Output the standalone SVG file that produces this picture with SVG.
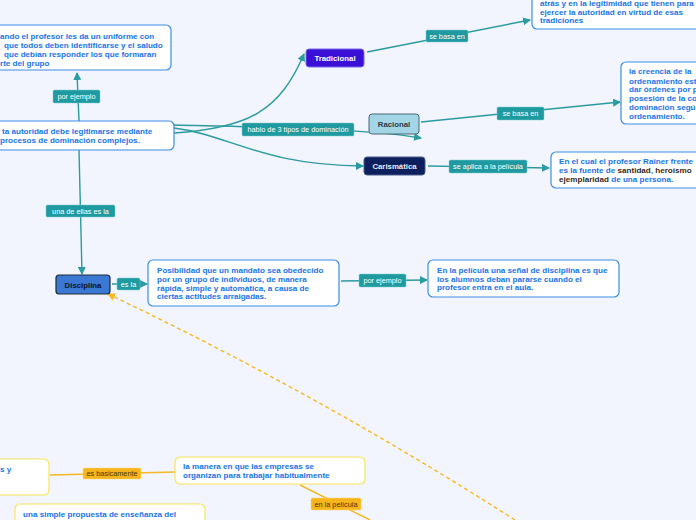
<svg xmlns="http://www.w3.org/2000/svg" width="696" height="520" viewBox="0 0 696 520">
<defs>
<marker id="ah" markerWidth="8" markerHeight="8" refX="7" refY="4" orient="auto" markerUnits="userSpaceOnUse"><path d="M0,0 L8,4 L0,8 Z" fill="#2a9ba0"/></marker>
<marker id="ahy" markerWidth="8" markerHeight="8" refX="7" refY="4" orient="auto" markerUnits="userSpaceOnUse"><path d="M0,0 L8,4 L0,8 Z" fill="#f5b820"/></marker>
<style>
.box{fill:#fff;stroke:#3a8ee6;stroke-width:1.2}
.ybox{fill:#fff;stroke:#f7e45a;stroke-width:1.2}
.t{font-family:"Liberation Sans",Arial,sans-serif;font-weight:bold;font-size:8.1px;fill:#1a73e8}
.dk{fill:#3a2a1a}
.lab{fill:#1e9aa0;stroke:#7cc9cc;stroke-width:0.5}
.ylab{fill:#f7b51c;stroke:#fbd77a;stroke-width:0.5}
.lt{font-family:"Liberation Sans",Arial,sans-serif;font-size:7.3px;fill:#fff}
.ylt{font-family:"Liberation Sans",Arial,sans-serif;font-size:7.3px;fill:#4a3500}
.c{fill:none;stroke:#2a9ba0;stroke-width:1.4}
.yc{fill:none;stroke:#f5b820;stroke-width:1.4}
.nt{font-family:"Liberation Sans",Arial,sans-serif;font-weight:bold;font-size:7.8px;text-anchor:middle}
</style>
</defs>
<rect width="696" height="520" fill="#f2f5fd"/>

<g id="connectors">
<path class="c" d="M79,121 L77,73" marker-end="url(#ah)"/>
<path class="c" d="M174,133 C250,128 280,110 304,54" marker-end="url(#ah)"/>
<path class="c" d="M174,125 C260,127 360,128 421,138" marker-end="url(#ah)"/>
<path class="c" d="M174,128 C230,135 260,165 363,166" marker-end="url(#ah)"/>
<path class="c" d="M367,52 L530,20" marker-end="url(#ah)"/>
<path class="c" d="M421,122 L620,102" marker-end="url(#ah)"/>
<path class="c" d="M428,166 L549,168" marker-end="url(#ah)"/>
<path class="c" d="M79,150 L82,274" marker-end="url(#ah)"/>
<path class="c" d="M112,284 L147,284" marker-end="url(#ah)"/>
<path class="c" d="M341,281 L427,280" marker-end="url(#ah)"/>
<path class="yc" d="M515,520 Q320,395 108,294" stroke-dasharray="4,3" marker-end="url(#ahy)"/>
<path class="yc" d="M50,475 L175,472"/>
<path class="yc" d="M300,485 L370,520"/>
<rect class="lab" x="53" y="90" width="47" height="13" rx="1.5"/>
<text class="lt" x="76.5" y="99" text-anchor="middle">por ejemplo</text>
<rect class="lab" x="242" y="123" width="112" height="13" rx="1.5"/>
<text class="lt" x="298" y="132" text-anchor="middle">hablo de 3 tipos de dominación</text>
<rect class="lab" x="426" y="30" width="42" height="12" rx="1.5"/>
<text class="lt" x="447" y="38.5" text-anchor="middle">se basa en</text>
<rect class="lab" x="497" y="107" width="47" height="13" rx="1.5"/>
<text class="lt" x="520.5" y="116" text-anchor="middle">se basa en</text>
<rect class="lab" x="449" y="160" width="78" height="13" rx="1.5"/>
<text class="lt" x="488" y="169" text-anchor="middle">se aplica a la película</text>
<rect class="lab" x="46" y="205" width="69" height="12" rx="1.5"/>
<text class="lt" x="80.5" y="213.5" text-anchor="middle">una de ellas es la</text>
<rect class="lab" x="117" y="278" width="23" height="12" rx="1.5"/>
<text class="lt" x="128.5" y="286.5" text-anchor="middle">es la</text>
<rect class="lab" x="359" y="274" width="47" height="13" rx="1.5"/>
<text class="lt" x="382.5" y="283" text-anchor="middle">por ejemplo</text>
<rect class="ylab" x="83" y="468" width="58" height="11" rx="1.5"/>
<text class="ylt" x="112" y="476" text-anchor="middle">es basicamente</text>
<rect class="ylab" x="311" y="498" width="50" height="12" rx="1.5"/>
<text class="ylt" x="336" y="506.5" text-anchor="middle">en la película</text>
</g>

<g id="n-uniforme">
<rect class="box" x="-10" y="25" width="181" height="45" rx="5"/>
<text class="t" x="0" y="39">ando el profesor les da un uniforme con</text>
<text class="t" x="4" y="48">que todos deben identificarse y el saludo</text>
<text class="t" x="4" y="57">que debían responder los que formaran</text>
<text class="t" x="0" y="66">rte del grupo</text>
</g>

<g id="n-autoridad">
<rect class="box" x="-10" y="121" width="184" height="29" rx="5"/>
<text class="t" x="2" y="134">ta autoridad debe legitimarse mediante</text>
<text class="t" x="0" y="143">procesos de dominación complejos.</text>
</g>

<g id="n-tradicional">
<rect x="306" y="49" width="58" height="18" rx="3" fill="#3a0fd6" stroke="#7a66ee" stroke-width="1"/>
<text class="nt" x="335" y="61" fill="#fff">Tradicional</text>
</g>

<g id="n-trad-desc">
<rect class="box" x="532" y="-10" width="180" height="39" rx="5"/>
<text class="t" x="540" y="6">atrás y en la legitimidad que tienen para</text>
<text class="t" x="540" y="15">ejercer la autoridad en virtud de esas</text>
<text class="t" x="540" y="23">tradiciones</text>
</g>

<g id="n-racional">
<rect x="369" y="114" width="50" height="20" rx="3" fill="#a2d6e6" stroke="#4a6678" stroke-width="1"/>
<text class="nt" x="394" y="127" fill="#2a3a48">Racional</text>
</g>

<g id="n-rac-desc">
<rect class="box" x="621" y="62" width="90" height="62" rx="5"/>
<text class="t" x="629" y="74">la creencia de la</text>
<text class="t" x="629" y="84">ordenamiento est</text>
<text class="t" x="629" y="92">dar órdenes por p</text>
<text class="t" x="629" y="101">posesión de la co</text>
<text class="t" x="629" y="110">dominación segú</text>
<text class="t" x="629" y="119">ordenamiento.</text>
</g>

<g id="n-carismatica">
<rect x="364" y="157" width="61" height="18" rx="3" fill="#0d1f5c" stroke="#4a5a8a" stroke-width="1"/>
<text class="nt" x="394.5" y="169" fill="#e8ecf6">Carismática</text>
</g>

<g id="n-caris-desc">
<rect class="box" x="551" y="152" width="160" height="36" rx="5"/>
<text class="t" x="559" y="164">En el cual el profesor Rainer frente</text>
<text class="t" x="559" y="173">es la fuente de <tspan class="dk">santidad</tspan>, <tspan class="dk">heroísmo</tspan></text>
<text class="t" x="559" y="182"><tspan class="dk">ejemplaridad</tspan> de una persona.</text>
</g>

<g id="n-disciplina">
<rect x="56" y="275" width="54" height="19" rx="3" fill="#3a78d4" stroke="#1c2a3a" stroke-width="1.2"/>
<text class="nt" x="83" y="287.5" fill="#0e1420">Disciplina</text>
</g>

<g id="n-posibilidad">
<rect class="box" x="148" y="260" width="191" height="46" rx="5"/>
<text class="t" x="157" y="273">Posibilidad que un mandato sea obedecido</text>
<text class="t" x="157" y="282">por un grupo de individuos, de manera</text>
<text class="t" x="157" y="290.5">rápida, simple y automática, a causa de</text>
<text class="t" x="157" y="299">ciertas actitudes arraigadas.</text>
</g>

<g id="n-senal">
<rect class="box" x="428" y="260" width="191" height="37" rx="5"/>
<text class="t" x="437" y="273">En la película una señal de disciplina es que</text>
<text class="t" x="437" y="281.5">los alumnos deban pararse cuando el</text>
<text class="t" x="437" y="290">profesor entra en el aula.</text>
</g>

<g id="n-sy">
<rect class="ybox" x="-10" y="459" width="59" height="36" rx="5"/>
<text class="t" x="0" y="472">s y</text>
</g>

<g id="n-manera">
<rect class="ybox" x="175" y="457" width="190" height="27" rx="5"/>
<text class="t" x="183" y="468.5">la manera en que las empresas se</text>
<text class="t" x="183" y="477.5">organizan para trabajar habitualmente</text>
</g>

<g id="n-propuesta">
<rect class="ybox" x="15" y="504" width="190" height="30" rx="5"/>
<text class="t" x="23" y="517">una simple propuesta de enseñanza del</text>
</g>
</svg>
